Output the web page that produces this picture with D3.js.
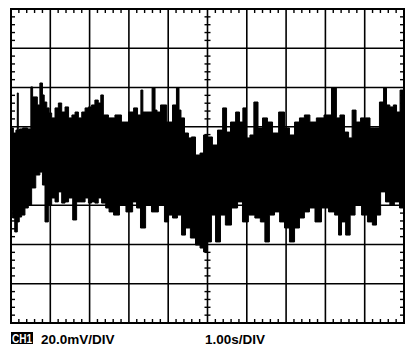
<!DOCTYPE html>
<html>
<head>
<meta charset="utf-8">
<script src="https://cdn.jsdelivr.net/npm/d3@7"></script>
<style>
  body { margin: 0; background: #fff; }
  svg { display: block; }
  .label { font-family: "Liberation Sans", Arial, sans-serif; font-weight: bold; font-size: 13.5px; }
</style>
</head>
<body>
<div id="chart"></div>
<script>
'use strict';

// Scope settings
var TIME_DIVS = 10;        // 1.00 s / div
var VOLT_DIVS = 8;         // 20.0 mV / div
var SEC_PER_DIV = 1.0;
var MV_PER_DIV = 20.0;
var CHANNEL = 'CH1';
var VOLT_LABEL = '20.0mV/DIV';
var TIME_LABEL = '1.00s/DIV';

// Upper edge of the noise band, [time (s), mV]
var traceTop = [
  [0.02, 19.4], [0.10, 16.8], [0.15, 18.3], [0.17, 37.2], [0.20, 18.3], [0.23, 18.9],
  [0.36, 19.4], [0.48, 18.9], [0.53, 40.3], [0.57, 35.2], [0.65, 35.2], [0.69, 31.1],
  [0.78, 42.3], [0.82, 36.2], [0.87, 32.6], [0.95, 29.6], [0.99, 27.0], [1.08, 24.5],
  [1.16, 29.6], [1.25, 32.1], [1.33, 27.5], [1.42, 30.1], [1.51, 24.5], [1.59, 26.0],
  [1.67, 27.5], [1.76, 24.5], [1.84, 27.5], [1.93, 29.6], [2.01, 30.1], [2.09, 31.1],
  [2.18, 33.6], [2.26, 32.1], [2.31, 36.2], [2.39, 26.0], [2.57, 24.5], [2.72, 26.0],
  [2.90, 22.4], [3.08, 27.5], [3.16, 29.6], [3.28, 26.0], [3.33, 38.7], [3.38, 27.5],
  [3.54, 27.5], [3.64, 39.7], [3.69, 28.5], [3.74, 27.5], [3.87, 31.1], [4.05, 22.4],
  [4.17, 31.1], [4.25, 39.7], [4.30, 28.5], [4.35, 24.5], [4.48, 16.8], [4.55, 14.3],
  [4.63, 14.8], [4.76, 5.6], [4.86, 6.6], [4.94, 15.8], [5.06, 14.8], [5.19, 10.7],
  [5.32, 18.3], [5.45, 29.6], [5.52, 17.3], [5.65, 22.4], [5.78, 27.5], [5.85, 22.4],
  [5.95, 29.6], [6.03, 14.3], [6.13, 15.8], [6.23, 32.6], [6.34, 19.4], [6.46, 24.5],
  [6.59, 22.4], [6.72, 16.8], [6.90, 27.5], [7.02, 19.4], [7.15, 15.8], [7.28, 22.4],
  [7.40, 24.5], [7.53, 26.0], [7.68, 22.4], [7.86, 24.5], [8.07, 26.0], [8.24, 39.7],
  [8.32, 24.5], [8.42, 26.0], [8.55, 17.3], [8.63, 14.3], [8.73, 28.5], [8.83, 22.4],
  [8.96, 24.5], [9.08, 24.5], [9.19, 19.4], [9.31, 19.4], [9.44, 32.6], [9.52, 39.7],
  [9.59, 31.1], [9.69, 30.1], [9.77, 31.1], [9.85, 27.5], [9.95, 38.7], [10.0, 28.5]
];

// Lower edge of the noise band, [time (s), mV]
var traceBottom = [
  [0.02, -22.4], [0.06, -26.5], [0.13, -33.6], [0.19, -28.5], [0.23, -26.0], [0.31, -25.0],
  [0.40, -21.4], [0.48, -19.9], [0.57, -11.2], [0.69, -4.6], [0.78, -3.1], [0.82, -9.7],
  [0.91, -28.5], [0.99, -19.9], [1.08, -16.3], [1.16, -18.3], [1.25, -13.2], [1.33, -18.9],
  [1.42, -18.3], [1.51, -16.3], [1.63, -27.5], [1.71, -18.3], [1.84, -18.3], [1.93, -16.3],
  [2.01, -18.9], [2.09, -18.3], [2.18, -18.9], [2.26, -16.3], [2.35, -18.9], [2.47, -21.4],
  [2.52, -23.4], [2.70, -25.0], [2.82, -19.9], [3.03, -23.4], [3.16, -18.3], [3.23, -21.4],
  [3.36, -31.6], [3.49, -19.9], [3.66, -23.4], [3.84, -19.9], [3.97, -28.5], [4.05, -25.0],
  [4.17, -26.5], [4.30, -25.0], [4.38, -35.2], [4.50, -31.6], [4.63, -36.7], [4.76, -40.3],
  [4.86, -41.8], [4.94, -43.8], [5.06, -38.7], [5.14, -25.0], [5.27, -38.7], [5.39, -25.0],
  [5.52, -30.1], [5.70, -21.4], [5.83, -18.3], [5.95, -28.5], [6.13, -25.0], [6.28, -26.5],
  [6.41, -28.5], [6.51, -38.7], [6.64, -25.0], [6.77, -23.4], [6.90, -28.5], [7.02, -31.6],
  [7.15, -38.7], [7.28, -31.6], [7.40, -26.5], [7.53, -23.4], [7.66, -21.4], [7.81, -28.5],
  [7.99, -21.4], [8.17, -23.4], [8.30, -25.0], [8.37, -35.2], [8.45, -28.5], [8.58, -35.2],
  [8.68, -25.0], [8.83, -19.9], [9.01, -25.0], [9.13, -28.5], [9.26, -30.1], [9.34, -25.0],
  [9.47, -13.2], [9.59, -18.3], [9.69, -19.9], [9.82, -18.3], [9.95, -21.4], [10.0, -19.9]
];

var WIDTH = 417, HEIGHT = 353;
var LEFT = 11, RIGHT = 404, TOP = 9, BOTTOM = 323;
var TICK = 4;

var tMax = TIME_DIVS * SEC_PER_DIV;
var vMax = VOLT_DIVS / 2 * MV_PER_DIV;

var x = d3.scaleLinear().domain([0, tMax]).range([LEFT, RIGHT]);
var y = d3.scaleLinear().domain([-vMax, vMax]).range([BOTTOM, TOP]);

var svg = d3.select('#chart').append('svg')
  .attr('width', WIDTH)
  .attr('height', HEIGHT);

// graticule
var grid = svg.append('g')
  .attr('stroke', '#000')
  .attr('stroke-width', 1.6);

grid.selectAll('line.v')
  .data(d3.range(1, TIME_DIVS).map(function(i) { return i * SEC_PER_DIV; }))
  .enter().append('line')
  .attr('x1', function(d) { return x(d); })
  .attr('x2', function(d) { return x(d); })
  .attr('y1', TOP)
  .attr('y2', BOTTOM);

grid.selectAll('line.h')
  .data(d3.range(1, VOLT_DIVS).map(function(i) { return -vMax + i * MV_PER_DIV; }))
  .enter().append('line')
  .attr('x1', LEFT)
  .attr('x2', RIGHT)
  .attr('y1', function(d) { return y(d); })
  .attr('y2', function(d) { return y(d); });

// minor ticks, five per division
var tTicks = d3.range(1, TIME_DIVS * 5).filter(function(i) { return i % 5 != 0; })
  .map(function(i) { return i * SEC_PER_DIV / 5; });
var vTicks = d3.range(1, VOLT_DIVS * 5).filter(function(i) { return i % 5 != 0; })
  .map(function(i) { return -vMax + i * MV_PER_DIV / 5; });

var ticks = svg.append('g')
  .attr('stroke', '#000')
  .attr('stroke-width', 1.4);

function addTicks(cls, data, fn) {
  ticks.selectAll('line.' + cls)
    .data(data)
    .enter().append('line')
    .attr('class', cls)
    .each(function(d) {
      var c = fn(d);
      d3.select(this).attr('x1', c[0]).attr('y1', c[1]).attr('x2', c[2]).attr('y2', c[3]);
    });
}

addTicks('top', tTicks, function(d) { return [x(d), TOP, x(d), TOP + TICK]; });
addTicks('bottom', tTicks, function(d) { return [x(d), BOTTOM, x(d), BOTTOM - TICK]; });
addTicks('midh', tTicks, function(d) { return [x(d), y(0) - TICK + 1, x(d), y(0) + TICK - 1]; });
addTicks('left', vTicks, function(d) { return [LEFT, y(d), LEFT + TICK, y(d)]; });
addTicks('right', vTicks, function(d) { return [RIGHT, y(d), RIGHT - TICK, y(d)]; });
addTicks('midv', vTicks, function(d) { return [x(tMax / 2) - TICK + 1, y(d), x(tMax / 2) + TICK - 1, y(d)]; });

// noise band: top edge left to right, bottom edge back, drawn as steps
var band = traceTop.concat(traceBottom.slice().reverse());
var line = d3.line()
  .x(function(d) { return x(d[0]); })
  .y(function(d) { return y(d[1]); })
  .curve(d3.curveStep);

svg.append('path')
  .attr('d', line(band) + 'Z')
  .attr('fill', '#000')
  .attr('stroke', '#000')
  .attr('stroke-width', 1);

// frame
svg.append('rect')
  .attr('x', LEFT)
  .attr('y', TOP)
  .attr('width', RIGHT - LEFT)
  .attr('height', BOTTOM - TOP)
  .attr('fill', 'none')
  .attr('stroke', '#000')
  .attr('stroke-width', 2);

// readout
var readout = svg.append('g').attr('class', 'label');
readout.append('rect')
  .attr('x', 11)
  .attr('y', 332)
  .attr('width', 22)
  .attr('height', 12)
  .attr('fill', '#000');
readout.append('text')
  .attr('x', 12)
  .attr('y', 343)
  .attr('fill', '#fff')
  .attr('font-size', 13)
  .attr('textLength', 20)
  .attr('lengthAdjust', 'spacingAndGlyphs')
  .text(CHANNEL);
readout.append('text')
  .attr('x', 41)
  .attr('y', 344)
  .text(VOLT_LABEL);
readout.append('text')
  .attr('x', 205)
  .attr('y', 344)
  .text(TIME_LABEL);
</script>
</body>
</html>
